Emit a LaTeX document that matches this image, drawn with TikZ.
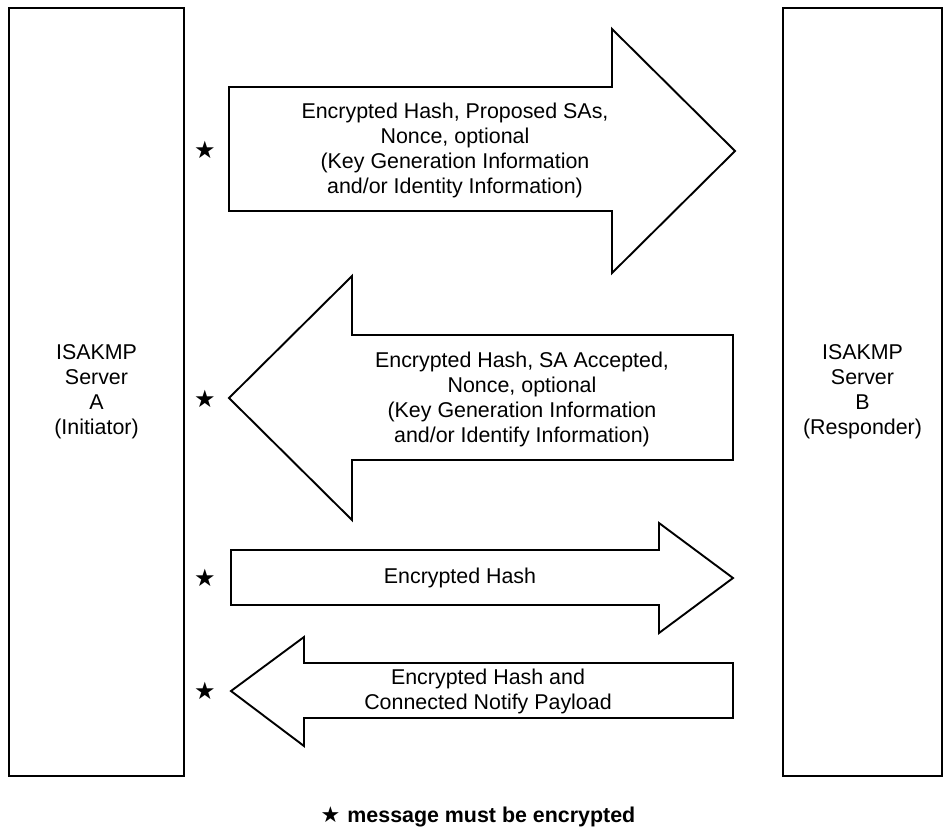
\documentclass[tikz,border=0pt]{standalone}
\usepackage{fontspec}
\setmainfont{Liberation Sans}
\newfontfamily\starfont{DejaVu Sans}
\usepackage{tikz}
\usetikzlibrary{positioning, calc}

\begin{document}
\begin{tikzpicture}[
    x=1pt, y=-1pt,
    server/.style={draw, line width=2.2pt, outer sep=0pt, align=center,
                   minimum width=175pt, minimum height=768pt,
                   font=\fontsize{21.4}{25}\selectfont},
    msgarrow/.style={draw, line width=1.9pt, line join=miter, fill=white},
    msgtext/.style={align=center, inner sep=0pt,
                    font=\fontsize{21.4}{25}\selectfont},
    enc/.style={inner sep=0pt, font=\starfont\fontsize{24}{24}\selectfont},
  ]
  \useasboundingbox (0,0) rectangle (944,831);

  % Servers
  \node[server, anchor=north west] (srvA) at (9,8)
    {ISAKMP\\Server\\A\\(Initiator)};
  \node[server, anchor=north west, minimum width=159pt] (srvB) at (783,8)
    {ISAKMP\\Server\\B\\(Responder)};

  % Message 1 (A -> B)
  \draw[msgarrow] (229,87) -- (612,87) -- (612,29) -- (735,151)
    -- (612,273) -- (612,211) -- (229,211) -- cycle;
  \node[msgtext] (msgone) at (455,150)
    {Encrypted Hash, Proposed SAs,\\Nonce, optional\\(Key Generation Information\\and/or Identity Information)};
  \node[enc] (encone) at (205,150) {★};

  % Message 2 (B -> A)
  \draw[msgarrow] (229,398) -- (352,276) -- (352,335) -- (733,335)
    -- (733,460) -- (352,460) -- (352,520) -- cycle;
  \node[msgtext] (msgtwo) at (522,399)
    {Encrypted Hash, SA Accepted,\\Nonce, optional\\(Key Generation Information\\and/or Identify Information)};
  \node[enc] (enctwo) at (205,399) {★};

  % Message 3 (A -> B)
  \draw[msgarrow] (231,550) -- (659,550) -- (659,523) -- (733,578)
    -- (659,633) -- (659,605) -- (231,605) -- cycle;
  \node[msgtext] (msgthree) at (460,578) {Encrypted Hash};
  \node[enc] (encthree) at (205,578) {★};

  % Message 4 (B -> A)
  \draw[msgarrow] (231,691) -- (304,637) -- (304,663) -- (733,663)
    -- (733,718) -- (304,718) -- (304,746) -- cycle;
  \node[msgtext] (msgfour) at (488,691)
    {Encrypted Hash and\\Connected Notify Payload};
  \node[enc] (encfour) at (205,691) {★};

  % Legend
  \node[font=\bfseries\fontsize{21.4}{25}\selectfont, inner sep=0pt] (legend) at (478,817)
    {{\starfont\fontsize{22}{22}\selectfont ★}\hspace{7pt}message must be encrypted};

\end{tikzpicture}
\end{document}
